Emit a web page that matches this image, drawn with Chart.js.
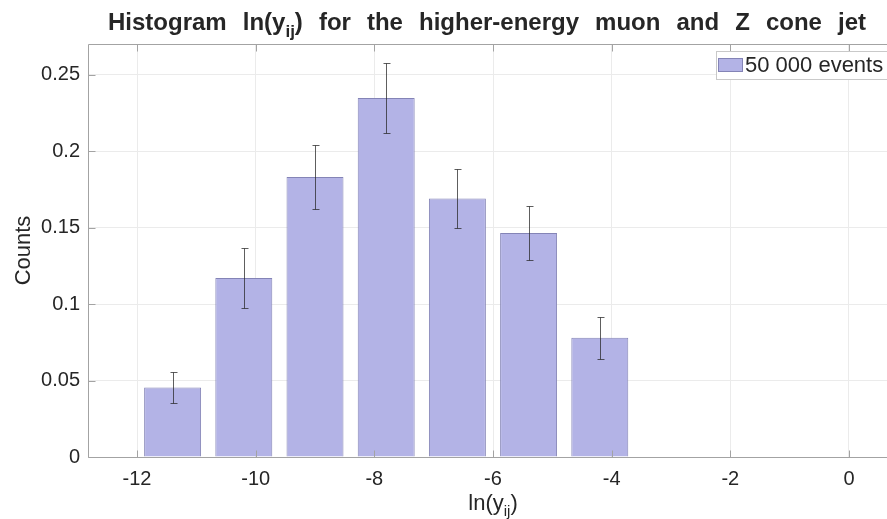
<!DOCTYPE html>
<html>
<head>
<meta charset="utf-8">
<script src="https://cdn.jsdelivr.net/npm/chart.js@4.4.1/dist/chart.umd.min.js"></script>
<style>
  html, body { margin: 0; padding: 0; background: #ffffff; overflow: hidden; }
  #wrap { width: 887px; height: 519px; overflow: hidden; }
  canvas { display: block; }
</style>
</head>
<body>
<div id="wrap"><canvas id="c" width="910" height="519"></canvas></div>
<script>
// Histogram bins of ln(y_ij): bin centres, normalised counts and their uncertainties
const binCenters = [-11.4, -10.2, -9.0, -7.8, -6.6, -5.4, -4.2, -3.0, -1.8, -0.6];
const counts     = [0.0454, 0.117, 0.183, 0.2347, 0.169, 0.1464, 0.0779, 0, 0, 0];
const errors     = [0.0101, 0.0194, 0.0209, 0.0232, 0.0195, 0.0179, 0.0137, 0, 0, 0];

const xTicks = [-12, -10, -8, -6, -4, -2, 0];
const xTickLabels = ['-12', '-10', '-8', '-6', '-4', '-2', '0'];
const yTicks = [0, 0.05, 0.1, 0.15, 0.2, 0.25];
const yTickLabels = ['0', '0.05', '0.1', '0.15', '0.2', '0.25'];

const seriesLabel = '50 000 events';
const titleParts = ['Histogram ln(y', 'ij', ') for the higher-energy muon and Z cone jet'];
const xLabelParts = ['ln(y', 'ij', ')'];
const yLabel = 'Counts';

const FONT = '"Liberation Sans", Arial, sans-serif';
const TEXT = '#262626';
const AXIS = '#a3a3a3';
const BAR_FILL = '#b3b3e6';
const BAR_EDGE = '#8484b6';

// draws text made of normal / subscript pieces; optional squeeze + word gaps to fill a width
function drawSubText(ctx, parts, cx, baseline, size, bold, targetWidth, squeeze) {
  const w = bold ? 'bold ' : '';
  const subSize = Math.round(size * 0.7);
  const s = squeeze || 1;
  const widths = parts.map((p, i) => {
    ctx.font = w + (i % 2 ? subSize : size) + 'px ' + FONT;
    return ctx.measureText(p).width;
  });
  const natural = widths.reduce((a, b) => a + b, 0);
  const nSpaces = parts.reduce((n, p, i) => n + (i % 2 ? 0 : (p.match(/ /g) || []).length), 0);
  const gap = targetWidth && nSpaces ? Math.max(0, (targetWidth / s - natural) / nSpaces) : 0;
  const total = (natural + gap * nSpaces) * s;
  ctx.save();
  ctx.translate(cx - total / 2, baseline);
  ctx.scale(s, 1);
  ctx.fillStyle = TEXT;
  ctx.textAlign = 'left';
  ctx.textBaseline = 'alphabetic';
  let x = 0;
  parts.forEach((p, i) => {
    ctx.font = w + (i % 2 ? subSize : size) + 'px ' + FONT;
    const dy = i % 2 ? size * 0.28 : 0;
    p.split(/( )/).forEach(tok => {
      if (tok === ' ') { x += ctx.measureText(' ').width + gap; return; }
      if (!tok) return;
      ctx.fillText(tok, x, dy);
      x += ctx.measureText(tok).width;
    });
  });
  ctx.restore();
}

const decorations = {
  id: 'decorations',
  afterDatasetsDraw(chart) {
    const { ctx, chartArea: a, scales: { x, y } } = chart;

    // error bars
    ctx.save();
    ctx.strokeStyle = 'rgba(40,40,40,0.75)';
    ctx.lineWidth = 1;
    binCenters.forEach((c, i) => {
      if (!errors[i]) return;
      const px = Math.round(x.getPixelForValue(c)) + 0.5;
      const yt = Math.round(y.getPixelForValue(counts[i] + errors[i])) + 0.5;
      const yb = Math.round(y.getPixelForValue(counts[i] - errors[i])) + 0.5;
      ctx.beginPath();
      ctx.moveTo(px, yt); ctx.lineTo(px, yb);
      ctx.moveTo(px - 3, yt); ctx.lineTo(px + 4, yt);
      ctx.moveTo(px - 3, yb); ctx.lineTo(px + 4, yb);
      ctx.stroke();
    });
    ctx.restore();

    // axes box and inward tick marks
    ctx.save();
    ctx.strokeStyle = AXIS;
    ctx.lineWidth = 1;
    const L = Math.round(a.left) + 0.5, R = Math.round(a.right) - 0.5;
    const T = Math.round(a.top) + 0.5, B = Math.round(a.bottom) + 0.5;
    ctx.beginPath();
    ctx.moveTo(L, T); ctx.lineTo(R, T); ctx.lineTo(R, B); ctx.lineTo(L, B); ctx.closePath();
    const tl = 7;
    xTicks.forEach(v => {
      const px = Math.round(x.getPixelForValue(v)) + 0.5;
      ctx.moveTo(px, B); ctx.lineTo(px, B - tl);
      ctx.moveTo(px, T); ctx.lineTo(px, T + tl);
    });
    yTicks.forEach(v => {
      const py = Math.round(y.getPixelForValue(v)) + 0.5;
      ctx.moveTo(L, py); ctx.lineTo(L + tl, py);
      ctx.moveTo(R, py); ctx.lineTo(R - tl, py);
    });
    ctx.stroke();
    ctx.restore();

    // legend
    ctx.save();
    const lx = a.right - 182, ly = a.top + 7;
    ctx.fillStyle = '#ffffff';
    ctx.fillRect(lx, ly, 200, 28);
    ctx.strokeStyle = '#c9c9c9';
    ctx.strokeRect(lx + 0.5, ly + 0.5, 200, 28);
    ctx.fillStyle = BAR_FILL;
    ctx.fillRect(lx + 2, ly + 7, 25, 14);
    ctx.strokeStyle = BAR_EDGE;
    ctx.strokeRect(lx + 2.5, ly + 7.5, 24, 13);
    ctx.fillStyle = TEXT;
    ctx.font = '22px ' + FONT;
    ctx.textAlign = 'left';
    ctx.textBaseline = 'middle';
    ctx.fillText(chart.data.datasets[0].label, lx + 29, ly + 15);
    ctx.restore();

    // title
    drawSubText(ctx, titleParts, 487, 30, 24, true, 758, 1.0);

    // axis titles
    const cx = (a.left + a.right) / 2;
    drawSubText(ctx, xLabelParts, cx, 510, 22, false, 0, 1);
    ctx.save();
    ctx.translate(30, (a.top + a.bottom) / 2);
    ctx.rotate(-Math.PI / 2);
    ctx.fillStyle = TEXT;
    ctx.font = '22px ' + FONT;
    ctx.textAlign = 'center';
    ctx.textBaseline = 'alphabetic';
    ctx.fillText(yLabel, 0, 0);
    ctx.restore();
  }
};

new Chart(document.getElementById('c'), {
  type: 'bar',
  data: {
    datasets: [{
      label: seriesLabel,
      data: binCenters.map((c, i) => ({ x: c, y: counts[i] })),
      backgroundColor: BAR_FILL,
      borderColor: BAR_EDGE,
      borderWidth: 1,
      borderSkipped: 'start',
      categoryPercentage: 1,
      barPercentage: 0.8
    }]
  },
  options: {
    responsive: false,
    animation: false,
    devicePixelRatio: 1,
    layout: { padding: { left: 0, top: 44, right: 12, bottom: 0 } },
    plugins: { legend: { display: false }, title: { display: false }, tooltip: { enabled: false } },
    scales: {
      x: {
        type: 'linear',
        min: -12.826,
        max: 0.826,
        offset: false,
        grid: { color: '#ebebeb', drawTicks: false, offset: false },
        border: { display: false },
        afterBuildTicks: s => { s.ticks = xTicks.map(v => ({ value: v })); },
        afterFit: s => { s.height = 62; },
        ticks: {
          padding: 10,
          color: TEXT,
          font: { family: FONT, size: 20 },
          maxRotation: 0,
          callback: v => xTickLabels[xTicks.indexOf(v)]
        }
      },
      y: {
        min: 0,
        max: 0.27,
        grid: { color: '#ebebeb', drawTicks: false },
        border: { display: false },
        afterBuildTicks: s => { s.ticks = yTicks.map(v => ({ value: v })); },
        afterFit: s => { s.width = 88; },
        ticks: {
          padding: 8,
          color: TEXT,
          font: { family: FONT, size: 20 },
          callback: v => yTickLabels[yTicks.indexOf(v)]
        }
      }
    }
  },
  plugins: [decorations]
});
</script>
</body>
</html>
